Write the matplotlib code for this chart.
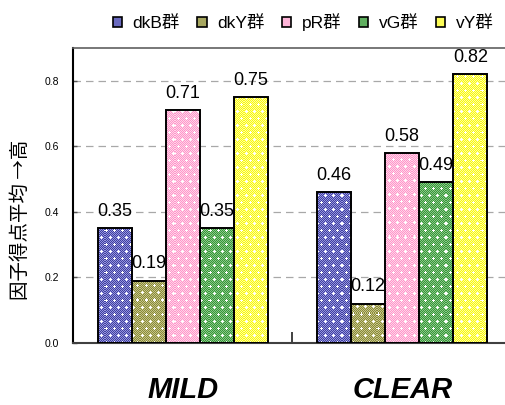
import numpy as np
import matplotlib
matplotlib.use("Agg")
import matplotlib.pyplot as plt
from matplotlib.patches import Patch

groups = ["MILD", "CLEAR"]
series = ["dkB群", "dkY群", "pR群", "vG群", "vY群"]
values = {
    "dkB群": [0.35, 0.46],
    "dkY群": [0.19, 0.12],
    "pR群": [0.71, 0.58],
    "vG群": [0.35, 0.49],
    "vY群": [0.75, 0.82],
}
yticks = [0.0, 0.2, 0.4, 0.6, 0.8]
ylabel = "因子得点平均 →高"

# dark / light checker colours used for each series fill
dark = ["#40409e", "#8a8a38", "#ff96ca", "#389638", "#f8f810"]
light = ["#9494e0", "#c4c488", "#ffd4e8", "#88c888", "#ffff9c"]

plt.rcParams["font.family"] = ["Liberation Sans", "Noto Sans CJK JP", "DejaVu Sans"]


def mix(c1, c2):
    a = np.array(matplotlib.colors.to_rgb(c1))
    b = np.array(matplotlib.colors.to_rgb(c2))
    return tuple((a + b) / 2)


def texture(h, w, c1, c2):
    a = np.array(matplotlib.colors.to_rgb(c1))
    b = np.array(matplotlib.colors.to_rgb(c2))
    ii, jj = np.mgrid[0:h, 0:w]
    img = np.where(((ii + jj) % 2 == 0)[..., None], a, b)
    # small white crosses on a staggered grid
    for r in range(0, h, 7):
        off = 4 * ((r // 7) % 2)
        for c in range(off, w, 8):
            for dy, dx in [(0, 0), (1, 0), (-1, 0), (0, 1), (0, -1)]:
                y, x = r + dy, c + dx
                if 0 <= y < h and 0 <= x < w:
                    img[y, x] = 1.0
    return img


fig = plt.figure(figsize=(5.06, 4.05), dpi=100)
ax = fig.add_axes([73 / 506, 62 / 405, 439 / 506, 295 / 405])
xlim = (-0.5, 1.5)
ylim = (0, 0.9)
ax.set_xlim(*xlim)
ax.set_ylim(*ylim)

x = np.arange(len(groups))
width = 0.155
bbox = ax.get_window_extent()
pw, ph = int(round(bbox.width)), int(round(bbox.height))

handles = []
for i, name in enumerate(series):
    pos = x + (i - 2) * width
    face = mix(dark[i], light[i])
    bars = ax.bar(pos, values[name], width, color=face, edgecolor="none", zorder=2)
    img = texture(ph, pw, dark[i], light[i])
    for b in bars:
        im = ax.imshow(img, extent=[xlim[0], xlim[1], ylim[0], ylim[1]], aspect="auto",
                       interpolation="none", origin="upper", zorder=2.5)
        im.set_clip_path(b)
    ax.bar(pos, values[name], width, facecolor="none", edgecolor="black",
           linewidth=1.4, zorder=3)
    for xp, v in zip(pos, values[name]):
        ax.annotate(f"{v:.2f}", (xp, v), xytext=(0, 6), textcoords="offset points",
                    ha="center", va="bottom", fontsize=13, zorder=4)
    handles.append(Patch(facecolor=face, edgecolor="black", linewidth=1.2, label=name))

ax.set_xlim(*xlim)
ax.set_ylim(*ylim)

for y in yticks[1:]:
    ax.axhline(y, color="#a8a8a8", linewidth=0.9, linestyle=(0, (6, 4)), zorder=1)

ax.spines["right"].set_visible(False)
ax.spines["left"].set_color("black")
ax.spines["left"].set_linewidth(1.5)
ax.spines["bottom"].set_color("#404040")
ax.spines["bottom"].set_linewidth(1.5)
ax.spines["top"].set_color("#606060")
ax.spines["top"].set_linewidth(1.2)

ax.set_yticks(yticks)
ax.set_yticklabels([f"{t:.1f}" for t in yticks])
ax.tick_params(axis="y", direction="in", length=3, width=1, color="#555555",
               labelsize=7.5, pad=10)

ax.set_xticks([-0.5, 0.5, 1.5])
ax.set_xticklabels(["", "", ""])
ax.tick_params(axis="x", which="major", direction="in", length=8, width=1.3,
               color="#333333")
ax.set_xticks(x, minor=True)
ax.set_xticklabels(groups, minor=True, fontsize=21, fontweight="bold",
                   fontstyle="italic")
ax.tick_params(axis="x", which="minor", length=0, pad=24)

fig.text(20 / 506, 1 - 220 / 405, ylabel, rotation=90, ha="center", va="center",
         fontsize=14, family=["Noto Sans CJK JP", "DejaVu Sans"])

fig.legend(handles=handles, loc="center", bbox_to_anchor=(303 / 506, 1 - 22 / 405),
           ncol=5, frameon=False, fontsize=12.5, handlelength=0.55,
           handleheight=0.55, handletextpad=0.6, columnspacing=1.0)

fig.savefig("out.png", dpi=100)
